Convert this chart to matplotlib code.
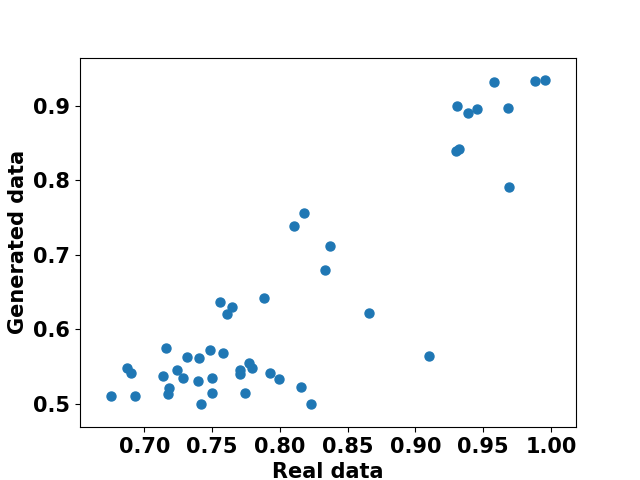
import matplotlib
matplotlib.use("Agg")
import matplotlib.pyplot as plt

real = [0.6753, 0.6869, 0.6903, 0.6932, 0.7161, 0.7139, 0.7183, 0.7176, 0.7242, 0.7286,
        0.7316, 0.7397, 0.7404, 0.7415, 0.7486, 0.7500, 0.7500, 0.7559, 0.7582, 0.7609,
        0.7648, 0.7707, 0.7707, 0.7744, 0.7769, 0.7791, 0.7884, 0.7928, 0.7995, 0.8157,
        0.8231, 0.8179, 0.8106, 0.8371, 0.8334, 0.8659, 0.9102, 0.9299, 0.9319, 0.9308,
        0.9390, 0.9456, 0.9582, 0.9685, 0.9692, 0.9882, 0.9958]
generated = [0.5101, 0.5477, 0.5405, 0.5101, 0.5741, 0.5373, 0.5212, 0.5123, 0.5450, 0.5338,
             0.5620, 0.5302, 0.5607, 0.4989, 0.5714, 0.5338, 0.5137, 0.6358, 0.5674, 0.6197,
             0.6291, 0.5450, 0.5392, 0.5137, 0.5548, 0.5477, 0.6412, 0.5405, 0.5329, 0.5217,
             0.4989, 0.7553, 0.7383, 0.7110, 0.6792, 0.6211, 0.5638, 0.8389, 0.8416, 0.8993,
             0.8899, 0.8949, 0.9311, 0.8962, 0.7906, 0.9325, 0.9338]

fig, ax = plt.subplots(figsize=(6.4, 4.8), dpi=100)
ax.scatter(real, generated, s=42, color="#1f77b4")
ax.set_xlim(0.6524, 1.0185)
ax.set_ylim(0.4682, 0.9643)
ax.set_xticks([0.70, 0.75, 0.80, 0.85, 0.90, 0.95, 1.00])
ax.set_yticks([0.5, 0.6, 0.7, 0.8, 0.9])
ax.set_xlabel("Real data", fontsize=15, fontweight="bold")
ax.set_ylabel("Generated data", fontsize=15, fontweight="bold")
for lab in ax.get_xticklabels() + ax.get_yticklabels():
    lab.set_fontsize(15)
    lab.set_fontweight("bold")
fig.savefig("out.png", dpi=100)
